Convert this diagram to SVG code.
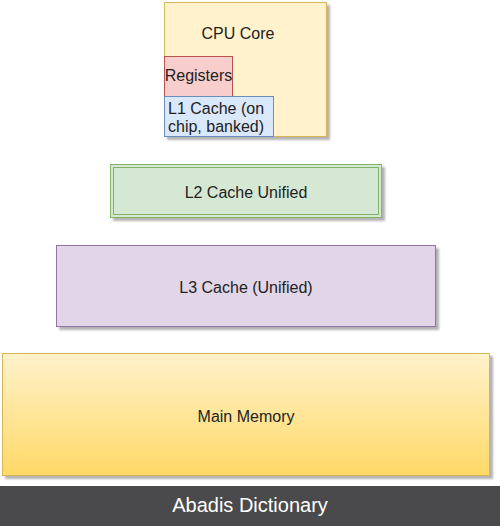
<svg xmlns="http://www.w3.org/2000/svg" width="500" height="526" viewBox="0 0 500 526">
<defs>
<filter id="sh" x="-10%" y="-10%" width="130%" height="140%">
<feGaussianBlur in="SourceAlpha" stdDeviation="1.2"/>
<feOffset dx="3" dy="3" result="b"/>
<feComponentTransfer><feFuncA type="linear" slope="0.3"/></feComponentTransfer>
<feMerge><feMergeNode/><feMergeNode in="SourceGraphic"/></feMerge>
</filter>
<linearGradient id="mm" x1="0" y1="0" x2="0" y2="1">
<stop offset="0" stop-color="#fff2cc"/>
<stop offset="1" stop-color="#ffd966"/>
</linearGradient>
</defs>
<style>
text{font-family:"Liberation Sans",Arial,sans-serif;font-size:16px;fill:#222}
.c{text-anchor:middle}
</style>
<rect width="500" height="526" fill="#ffffff"/>
<g id="cpu">
<rect x="164.5" y="2.5" width="162" height="134" fill="#fff2cc" stroke="#d6b656" filter="url(#sh)"/>
<text class="c" x="238" y="39">CPU Core</text>
</g>
<g id="registers">
<rect x="164.5" y="56.5" width="68" height="40" fill="#f8cecc" stroke="#b85450"/>
<text class="c" x="198.5" y="81">Registers</text>
</g>
<g id="l1">
<rect x="164.5" y="96.5" width="109" height="40" fill="#dae8fc" stroke="#6c8ebf"/>
<text x="168" y="114">L1 Cache (on</text>
<text x="168" y="132">chip, banked)</text>
</g>
<g id="l2">
<rect x="110.5" y="164.5" width="271" height="53" fill="#d5e8d4" stroke="#82b366" filter="url(#sh)"/>
<rect x="113.5" y="167.5" width="265" height="47" fill="none" stroke="#82b366"/>
<text class="c" x="246" y="198">L2 Cache Unified</text>
</g>
<g id="l3">
<rect x="56.5" y="245.5" width="379" height="81" fill="#e1d5e7" stroke="#9673a6" filter="url(#sh)"/>
<text class="c" x="246" y="293">L3 Cache (Unified)</text>
</g>
<g id="main">
<rect x="2.5" y="353.5" width="487" height="122" fill="url(#mm)" stroke="#d6b656" filter="url(#sh)"/>
<text class="c" x="246" y="422">Main Memory</text>
</g>
<g id="footer">
<rect x="0" y="486" width="500" height="40" fill="#4a494b"/>
<text class="c" x="250" y="512" style="font-size:20px;fill:#ffffff">Abadis Dictionary</text>
</g>
<g id="connectors"/>
</svg>
